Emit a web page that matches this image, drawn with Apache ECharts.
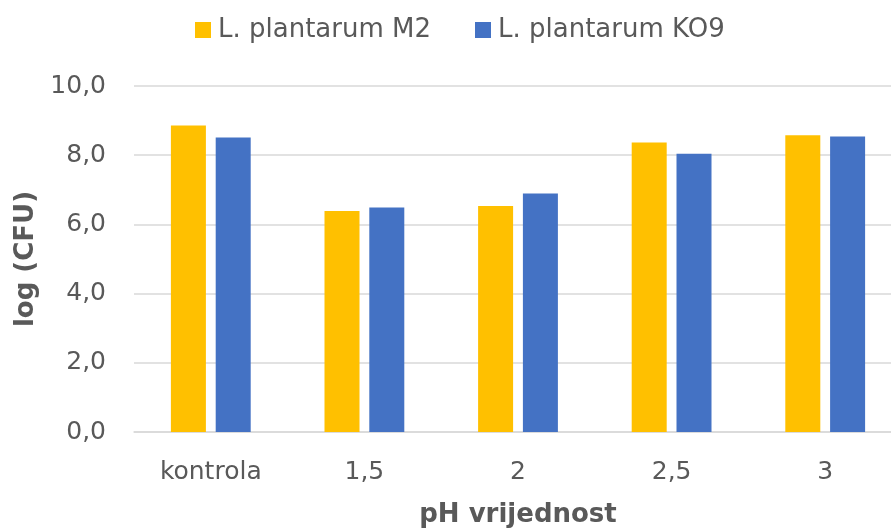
<!DOCTYPE html>
<html>
<head>
<meta charset="utf-8">
<script src="https://cdn.jsdelivr.net/npm/echarts@6/dist/echarts.min.js"></script>
<style>
  html, body { margin: 0; padding: 0; background: #fff; }
  #myChart { width: 891px; height: 529px; }
</style>
</head>
<body>
<div id="myChart"></div>
<script>
var categories = ['kontrola', '1,5', '2', '2,5', '3'];
var seriesNames = ['L. plantarum M2', 'L. plantarum KO9'];
var valuesM2 = [8.86, 6.39, 6.53, 8.37, 8.58];
var valuesKO9 = [8.51, 6.49, 6.89, 8.04, 8.54];
var yTicks = [0, 2, 4, 6, 8, 10];

var textColor = '#595959';
var font = 'DejaVu Sans';

var option = {
    animation: false,
    color: ['#FFC000', '#4472C4'],
    legend: {
        left: 195,
        top: 17,
        padding: 0,
        itemWidth: 16,
        itemHeight: 16,
        itemGap: 44,
        icon: 'rect',
        textStyle: { color: textColor, fontFamily: font, fontSize: 26, padding: [0, 0, 0, 2] },
        data: seriesNames
    },
    grid: {
        left: 134,
        width: 768,
        top: 86,
        bottom: 97,
        containLabel: false,
        outerBoundsMode: 'none'
    },
    xAxis: {
        type: 'category',
        data: categories,
        name: 'pH vrijednost',
        nameLocation: 'middle',
        nameGap: 70,
        nameTextStyle: { color: textColor, fontFamily: font, fontSize: 26, fontWeight: 'bold' },
        axisLine: { lineStyle: { color: '#D9D9D9', width: 1.5 } },
        axisTick: { show: false },
        axisLabel: { color: textColor, fontFamily: font, fontSize: 25, margin: 28 }
    },
    yAxis: {
        type: 'value',
        min: yTicks[0],
        max: yTicks[yTicks.length - 1],
        interval: 2,
        name: 'log (CFU)',
        nameLocation: 'middle',
        nameGap: 90,
        nameTextStyle: { color: textColor, fontFamily: font, fontSize: 26, fontWeight: 'bold' },
        axisLine: { show: false },
        axisTick: { show: false },
        splitLine: { lineStyle: { color: '#D9D9D9', width: 1.5 } },
        axisLabel: {
            color: textColor, fontFamily: font, fontSize: 25, margin: 28,
            formatter: function (v) { return v.toFixed(1).replace('.', ','); }
        }
    },
    series: [{
        name: seriesNames[0],
        type: 'bar',
        data: valuesM2,
        barWidth: 35,
        barGap: '28%'
    }, {
        name: seriesNames[1],
        type: 'bar',
        data: valuesKO9,
        barWidth: 35,
        barGap: '28%'
    }]
};

var myChart = echarts.init(document.getElementById('myChart'));
myChart.setOption(option);

window.onresize = function () {
    myChart.resize();
}
</script>
</body>
</html>
